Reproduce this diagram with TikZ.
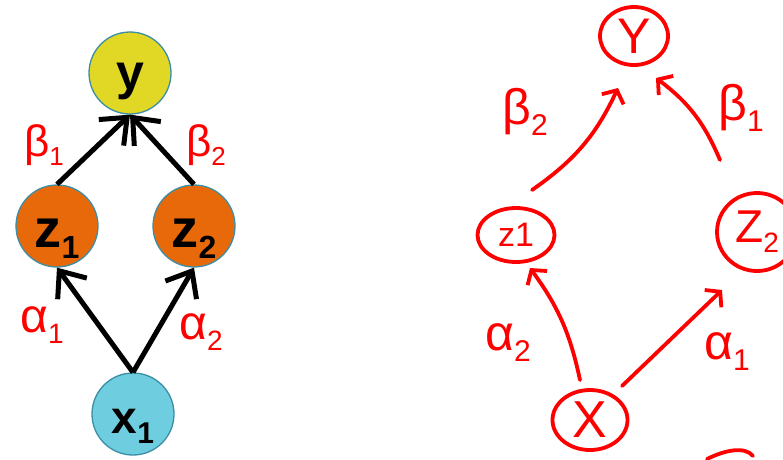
\documentclass[tikz,border=0pt]{standalone}
\usepackage{fontspec}
\setmainfont{Liberation Sans}
\usetikzlibrary{arrows.meta,shapes.geometric}
\definecolor{yfill}{HTML}{E0D824}
\definecolor{zfill}{HTML}{E8690A}
\definecolor{xfill}{HTML}{6ECEE0}
\definecolor{rim}{HTML}{3B8EA5}
\definecolor{ink}{HTML}{FF0000}
\newcommand\lowsub[2]{\raisebox{-0.22em}{\fontsize{#1}{#1}\selectfont #2}}
\begin{document}
\begin{tikzpicture}[x=1pt,y=-1pt,
  varnode/.style={circle,draw=rim,line width=1.3pt,minimum size=82pt,inner sep=0pt},
  link/.style={line width=5pt,-{Straight Barb[length=22pt,width=36pt]}},
  redlab/.style={text=ink,inner sep=0pt},
  sketch/.style={draw=ink,line width=3.8pt,ellipse,inner sep=0pt,text=ink},
  stroke/.style={draw=ink,line width=3.8pt,line cap=round,-{Straight Barb[length=10pt,width=24pt]}}]
\useasboundingbox (0,0) rectangle (783,459);
% left diagram
\node[varnode,fill=yfill,font=\bfseries\fontsize{50}{50}\selectfont,text height=40pt,text depth=8pt] (y) at (130,73) {y};
\node[varnode,fill=zfill,font=\bfseries\fontsize{54}{54}\selectfont,text height=48pt,text depth=6pt] (z1) at (57,226) {z\lowsub{32}{1}};
\node[varnode,fill=zfill,font=\bfseries\fontsize{54}{54}\selectfont,text height=48pt,text depth=6pt] (z2) at (194,226) {z\lowsub{32}{2}};
\node[varnode,fill=xfill,font=\bfseries\fontsize{46}{46}\selectfont,text height=44pt,text depth=6pt] (x1) at (133,414) {x\lowsub{30}{1}};
\draw[link] (z1.north) -- (y.south);
\draw[link] (z2.north) -- (y.south);
\draw[link] (x1.north) -- (z1.south);
\draw[link] (x1.north) -- (z2.south);
\node[redlab,font=\fontsize{44}{44}\selectfont] (lb1) at (44,145) {β\lowsub{26}{1}};
\node[redlab,font=\fontsize{44}{44}\selectfont] (lb2) at (206,145) {β\lowsub{26}{2}};
\node[redlab,font=\fontsize{48}{48}\selectfont] (la1) at (42,325) {α\lowsub{28}{1}};
\node[redlab,font=\fontsize{48}{48}\selectfont] (la2) at (201,332) {α\lowsub{28}{2}};
% right sketch
\node[sketch,minimum width=68pt,minimum height=58pt,font=\fontsize{50}{50}\selectfont] (Y) at (634,36) {Y};
\node[sketch,minimum width=77pt,minimum height=54pt,font=\fontsize{34}{34}\selectfont] (sz1) at (516,235) {z1};
\node[sketch,minimum width=80pt,minimum height=78pt,font=\fontsize{46}{46}\selectfont] (sz2) at (757,232) {Z\lowsub{28}{2}};
\node[sketch,minimum width=75pt,minimum height=60pt,font=\fontsize{52}{52}\selectfont] (sX) at (590,420) {X};
\coordinate (b2s) at (532,190); \coordinate (b2e) at (618,88);
\coordinate (b1s) at (720,160); \coordinate (b1e) at (656,78);
\coordinate (a2s) at (580,380); \coordinate (a2e) at (530,268);
\coordinate (a1s) at (622,386); \coordinate (a1e) at (722,290);
\draw[stroke] (b2s) to[bend right=15] (b2e);
\draw[stroke] (b1s) to[bend right=15] (b1e);
\draw[stroke] (a2s) to[bend right=12] (a2e);
\draw[stroke] (a1s) -- (a1e);
\draw[draw=ink,line width=3.8pt,line cap=round] (707,459) .. controls (725,450) and (745,446) .. (753,456);
\node[redlab,font=\fontsize{50}{50}\selectfont] (rb2) at (525,112) {β\lowsub{30}{2}};
\node[redlab,font=\fontsize{50}{50}\selectfont] (rb1) at (741,108) {β\lowsub{30}{1}};
\node[redlab,font=\fontsize{50}{50}\selectfont] (ra2) at (508,343) {α\lowsub{30}{2}};
\node[redlab,font=\fontsize{50}{50}\selectfont] (ra1) at (727,352) {α\lowsub{30}{1}};
\end{tikzpicture}
\end{document}
